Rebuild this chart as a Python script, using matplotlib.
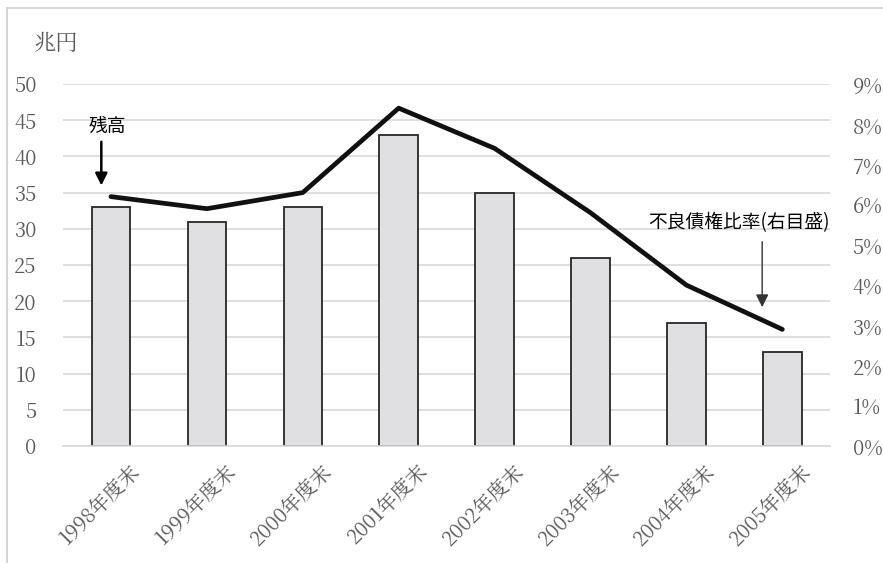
import numpy as np
import matplotlib; matplotlib.use("Agg"); import matplotlib.pyplot as plt
from matplotlib.lines import Line2D
from matplotlib.ticker import FuncFormatter
from matplotlib.transforms import ScaledTranslation

years = ["1998年度末", "1999年度末", "2000年度末", "2001年度末",
         "2002年度末", "2003年度末", "2004年度末", "2005年度末"]
balance = [33, 31, 33, 43, 35, 26, 17, 13]                       # 兆円
npl_ratio = [6.2, 5.9, 6.3, 8.4, 7.4, 5.8, 4.0, 2.9]               # %

plt.rcParams["font.family"] = ["Noto Serif CJK JP", "DejaVu Serif"]
JP_SANS = ["Noto Sans CJK JP", "DejaVu Sans"]
GREY = "#595959"

fig = plt.figure(figsize=(8.83, 5.63), dpi=100)
ax = fig.add_axes([0.0713, 0.2078, 0.869, 0.643])
ax2 = ax.twinx()

x = np.arange(len(years))
ax.bar(x, balance, width=0.4, color="#e0e0e2", edgecolor="#262626", linewidth=1.3, zorder=2)
ax2.plot(x, npl_ratio, color="#111111", lw=3.4, solid_capstyle="round", zorder=3)

ax.set_xlim(-0.5, len(years) - 0.5)
ax.set_ylim(0, 50)
ax.set_yticks(range(0, 51, 5))
ax2.set_ylim(0, 9)
ax2.set_yticks(range(0, 10))
ax2.yaxis.set_major_formatter(FuncFormatter(lambda v, p: f"{v:.0f}%"))

ax.yaxis.grid(True, color="#d9d9d9", lw=1.2, zorder=0)
ax.set_axisbelow(True)
for a in (ax, ax2):
    for s in a.spines.values():
        s.set_visible(False)
    a.tick_params(length=0, colors=GREY, labelsize=14.5)
ax.spines["bottom"].set_visible(True)
ax.spines["bottom"].set_color("#d9d9d9")
ax.spines["bottom"].set_linewidth(1.2)

ax.set_xticks(x)
ax.set_xticklabels(years, rotation=45, ha="right", rotation_mode="anchor",
                   fontsize=14.5, color=GREY)
ax.tick_params(axis="x", pad=10)
ax.tick_params(axis="y", pad=19)
ax2.tick_params(axis="y", pad=16)
# nudge the rotated year labels a little to the right
shift = ScaledTranslation(0.18, 0, fig.dpi_scale_trans)
for tick in ax.xaxis.get_major_ticks():
    tick.label1.set_transform(tick.label1.get_transform() + shift)

fig.text(0.038, 0.922, "兆円", fontsize=16, color=GREY, va="center")

# callouts
ax.text(-0.04, 44.2, "残高", family=JP_SANS, fontsize=13.5, ha="center", va="center")
ax.annotate("", xy=(-0.1, 35.6), xytext=(-0.1, 42.4),
            arrowprops=dict(arrowstyle="-|>", color="black", lw=1.8, mutation_scale=18))
ax.text(6.55, 30.8, "不良債権比率(右目盛)", family=JP_SANS, fontsize=13.5, ha="center", va="center")
ax.annotate("", xy=(6.79, 18.8), xytext=(6.79, 28.6),
            arrowprops=dict(arrowstyle="-|>", color="#333333", lw=1.0, mutation_scale=19))

# frame edge along top and left
fig.add_artist(Line2D([7 / 883, 7 / 883], [0, 1 - 8 / 563], color="#d0d0d0", lw=1.2))
fig.add_artist(Line2D([7 / 883, 1], [1 - 8 / 563, 1 - 8 / 563], color="#d0d0d0", lw=1.2))

fig.savefig("out.png", dpi=100)
